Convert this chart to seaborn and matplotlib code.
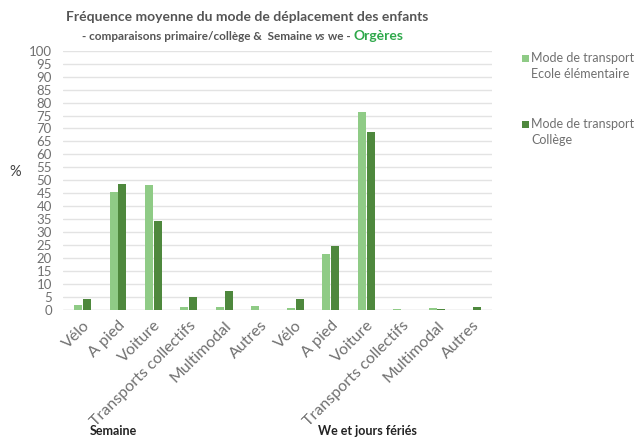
import matplotlib
matplotlib.use("Agg")
import matplotlib.pyplot as plt
import seaborn as sns
import pandas as pd
from matplotlib.patches import Rectangle

sns.set_theme(style="white")
plt.rcParams['font.family'] = ['Lato', 'DejaVu Sans']

modes = ["Vélo", "A pied", "Voiture", "Transports collectifs", "Multimodal", "Autres"]
periods = ["Semaine", "We et jours fériés"]
series = ["Mode de transport\nEcole élémentaire", "Mode de transport\nCollège"]

ecole_semaine = [1.9, 45.5, 48.3, 1.2, 1.0, 1.4]
college_semaine = [4.3, 48.7, 34.3, 4.9, 7.4, 0.0]
ecole_we = [0.7, 21.6, 76.3, 0.2, 0.8, 0.0]
college_we = [4.3, 24.8, 68.7, 0.0, 0.5, 1.2]

light = "#8fcb86"
dark = "#4e883d"
grey = "#707070"

rows = []
for p, (e_vals, c_vals) in zip(periods, [(ecole_semaine, college_semaine), (ecole_we, college_we)]):
    for m, e, c in zip(modes, e_vals, c_vals):
        key = f"{m}|{p}"
        rows.append({"cat": key, "serie": series[0], "val": e})
        rows.append({"cat": key, "serie": series[1], "val": c})
df = pd.DataFrame(rows)
order = [f"{m}|{p}" for p in periods for m in modes]

fig = plt.figure(figsize=(6.34, 4.40), dpi=100)
ax = fig.add_axes([0.0994, 0.2955, 0.6766, 0.5893])
sns.barplot(data=df, x="cat", y="val", hue="serie", order=order, hue_order=series,
            palette=[light, dark], width=0.5, gap=0.1, ax=ax, legend=False,
            saturation=1, linewidth=0, edgecolor="none")

ax.set_ylim(0, 100)
ax.set_xlim(-0.55, 11.55)
ax.set_yticks(range(0, 101, 5))
ax.yaxis.grid(True, color="#e3e3e3", linewidth=1)
ax.set_axisbelow(True)
for s in ax.spines.values():
    s.set_visible(False)
ax.axhline(0, color="#d9d9d9", linewidth=1, zorder=0.5)
ax.tick_params(axis="y", labelsize=9.5, colors=grey, length=0, pad=8)
ax.tick_params(axis="x", labelsize=11.5, colors=grey, length=0, pad=6)
ax.set_xticks(range(len(order)))
ax.set_xticklabels([o.split("|")[0] for o in order], rotation=45, ha="right",
                   rotation_mode="anchor")
ax.set_xlabel("")
ax.set_ylabel("")

fig.text(9 / 634, 1 - 172 / 440, "%", fontsize=10.5, color="#404040",
         ha="left", va="center")

# period labels
fig.text(90 / 634, 1 - 431 / 440, periods[0], fontsize=9, fontweight="bold",
         color="#222222", ha="left", va="center")
fig.text(318 / 634, 1 - 431 / 440, periods[1], fontsize=9, fontweight="bold",
         color="#222222", ha="left", va="center")

# titles
fig.text(247 / 634, 1 - 17 / 440, "Fréquence moyenne du mode de déplacement des enfants",
         fontsize=10, fontweight="bold", color="#555555", ha="center", va="center")

fig.canvas.draw()
renderer = fig.canvas.get_renderer()
pieces = [("- comparaisons primaire/collège &  Semaine ", "normal", "bold", "#555555", 8.5),
          ("vs", "italic", "bold", "#555555", 8.5),
          (" we - ", "normal", "bold", "#555555", 8.5),
          ("Orgères", "normal", "bold", "#2ea84a", 10)]
x = 82
y = 1 - 36 / 440
for txt, style, weight, col, fs in pieces:
    t = fig.text(x / 634, y, txt, fontsize=fs, fontstyle=style, fontweight=weight,
                 color=col, ha="left", va="center")
    bb = t.get_window_extent(renderer=renderer)
    x = bb.x1

# legend
for (yy, lab, col) in [(59, series[0], light), (125, series[1], dark)]:
    fig.patches.append(Rectangle((522 / 634, 1 - (yy + 3.5) / 440), 7 / 634, 7 / 440,
                                 transform=fig.transFigure, facecolor=col, edgecolor="none"))
    fig.text(531 / 634, 1 - (yy - 7) / 440, lab, fontsize=9, color=grey,
             ha="left", va="top", linespacing=1.45)

fig.savefig("out.png", dpi=100)
